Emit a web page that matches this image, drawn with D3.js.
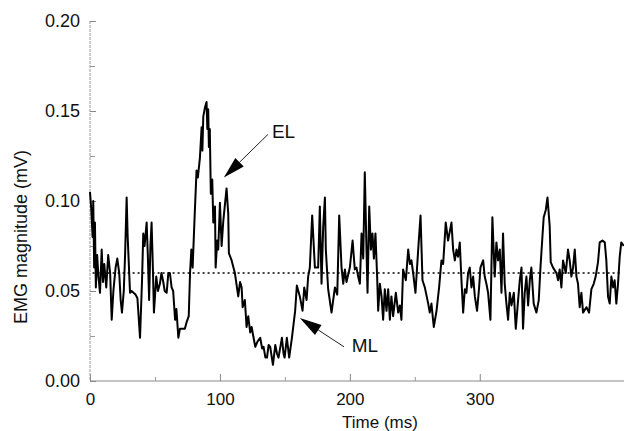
<!DOCTYPE html>
<html><head><meta charset="utf-8">
<script src="https://cdn.jsdelivr.net/npm/d3@7"></script>
<style>body{margin:0;background:#fff}svg{display:block}text{font-family:"Liberation Sans",Arial,sans-serif;fill:#111}</style>
</head><body><svg id="c" width="624" height="431"></svg>
<script>
// Time (ms)
const times = [0,1,2,2.5,3.2,3.8,4.5,5.5,6.5,7.7,9,10,11,12.5,14,15.5,16.7,18,19.7,21,22.5,23.6,24.6,26,27,28.2,29,30.8,32,35,36.5,38.5,40,41,42,43.6,44.5,45.5,46.5,47.4,48.5,49.2,51,52.3,53.8,55,56.4,57.5,59,60.3,61.5,62.8,64,65.5,66.5,68,69.2,71,73,74.5,76,77,78,79,80.5,82,83,
84.6,85.9,86.5,87.2,88.5,89.7,90.3,91,91.5,92.2,93,94.1,94.9,96.2,96.7,97.9,98.7,100,101.3,102.6,105.1,106.4,106.9,109,111.5,114.1,115.5,116.7,117.5,119.2,120.5,121.8,123.3,124.4,125.9,127.2,129,131,132.5,133.6,135,136.2,137.5,138.7,140.8,142.6,144,145.1,147.7,149,149.8,151.5,152.5,153.3,155.4,157.9,159.2,161.5,163.6,164.9,166.7,167.9,169.2,171,173.1,175.6,176.9,178.2,179.5,180.8,181.5,183.3,185.9,188.5,190.3,191.8,193.6,194.9,196.2,197.4,200,202.1,203.8,205.1,206.4,207.7,209,210.3,211.5,212.8,213.6,214.9,216.2,217.4,218.5,219.7,221,221.8,223.1,224.4,225.6,226.9,228.2,229.5,230.8,232,233.3,235.4,237.2,238.5,239.7,241,243.1,244.9,246.2,247.4,248.7,250.5,252.6,254.4,255.9,257.7,260.3,261.5,262.8,264.6,266.7,268.7,270.5,271.8,273.8,275.6,276.9,278.2,279.5,280.8,282.1,283.3,284.6,285.9,287.2,288.5,289.7,291,292.3,293.6,294.9,296.2,297.9,299.5,300.5,302.6,303.8,305.1,306.4,308.2,309.7,311.5,312.8,314.1,315.4,316.7,317.9,319.2,320.5,321.8,323.1,324.4,326.2,327.7,329.5,330.8,332.1,333.3,334.6,335.9,337.2,338.5,339.7,341.5,343.6,345.4,346.7,348.2,349.2,350.8,352.1,353.8,354.6,356.4,359,360.3,361.5,362.8,364.1,366.2,367.9,369.2,370.5,371.8,373.1,374.4,375.6,376.9,378.2,379.5,382.1,384.1,385.9,387.7,389.2,391,392.3,394.4,396.2,397.4,398.7,400,401.3,402.6,403.8,405.1,406.4,407.7,408.9,410.8];
// EMG magnitude (mV)
const emg = [0.105,0.095,0.08,0.1,0.063,0.088,0.052,0.07,0.058,0.049,0.073,0.055,0.065,0.052,0.07,0.06,0.034,0.05,0.063,0.068,0.06,0.045,0.038,0.05,0.07,0.102,0.08,0.049,0.05,0.048,0.046,0.024,0.055,0.082,0.075,0.088,0.07,0.045,0.075,0.088,0.06,0.038,0.058,0.05,0.054,0.06,0.055,0.05,0.049,0.06,0.06,0.052,0.05,0.034,0.04,0.024,0.029,0.029,0.029,0.033,0.036,0.06,0.073,0.063,0.091,0.117,0.113,
0.124,0.141,0.128,0.147,0.152,0.155,0.14,0.151,0.13,0.14,0.104,0.112,0.088,0.097,0.063,0.078,0.073,0.099,0.075,0.089,0.107,0.093,0.071,0.067,0.06,0.047,0.055,0.052,0.041,0.045,0.03,0.036,0.027,0.03,0.024,0.019,0.022,0.024,0.018,0.019,0.013,0.013,0.02,0.019,0.009,0.02,0.015,0.013,0.024,0.015,0.013,0.024,0.018,0.013,0.024,0.039,0.053,0.047,0.039,0.052,0.045,0.058,0.063,0.092,0.063,0.063,0.097,0.054,0.086,0.102,0.073,0.051,0.038,0.052,0.048,0.092,0.063,0.054,0.062,0.055,0.063,0.078,0.062,0.063,0.058,0.054,0.082,0.068,0.116,0.073,0.049,0.097,0.073,0.082,0.068,0.082,0.058,0.039,0.054,0.047,0.034,0.051,0.039,0.051,0.034,0.047,0.036,0.049,0.038,0.042,0.034,0.062,0.056,0.073,0.065,0.067,0.06,0.049,0.073,0.092,0.056,0.052,0.043,0.038,0.043,0.03,0.039,0.052,0.067,0.065,0.088,0.078,0.083,0.088,0.073,0.067,0.073,0.069,0.077,0.056,0.038,0.051,0.049,0.06,0.063,0.052,0.058,0.047,0.039,0.052,0.063,0.067,0.058,0.054,0.049,0.034,0.091,0.058,0.077,0.067,0.073,0.049,0.082,0.054,0.043,0.034,0.049,0.042,0.049,0.029,0.045,0.056,0.063,0.029,0.049,0.058,0.042,0.056,0.063,0.043,0.038,0.045,0.063,0.08,0.091,0.095,0.102,0.086,0.066,0.063,0.06,0.056,0.062,0.052,0.067,0.06,0.073,0.067,0.058,0.063,0.073,0.058,0.054,0.041,0.049,0.038,0.041,0.038,0.051,0.054,0.058,0.066,0.077,0.078,0.077,0.067,0.047,0.043,0.058,0.052,0.056,0.043,0.054,0.069,0.077,0.075];
const baseline = 0.06;
const yTicks = [0, 0.05, 0.10, 0.15, 0.20];
const yMinorTicks = [0.025, 0.075, 0.125, 0.175];
const xTicks = [0, 100, 200, 300];
const xMinorTicks = [50, 150, 250];
const annotations = [
  {label: "EL", tip: [103, 0.113], tail: [137, 0.137], text: [140, 0.135]},
  {label: "ML", tip: [161.5, 0.035], tail: [195.5, 0.019], text: [201.5, 0.016]}
];

const svg = d3.select("#c");
const x = d3.scaleLinear().domain([0, 411]).range([90, 624]);
const y = d3.scaleLinear().domain([0, 0.2]).range([381, 21]);

// axes
const gx = svg.append("g").attr("transform", `translate(0,${y(0)})`)
  .call(d3.axisBottom(x).tickValues(xTicks).tickSize(-7).tickPadding(12).tickFormat(d3.format("d")));
gx.select(".domain").attr("stroke", "#888").attr("d", `M${x(0)},0H624`);
gx.selectAll(".tick line").attr("stroke", "#888");
gx.selectAll(".tick text").attr("font-size", 17).attr("font-family", "Liberation Sans, Arial").attr("fill", "#111");
svg.append("g").attr("transform", `translate(0,${y(0)})`)
  .call(d3.axisBottom(x).tickValues(xMinorTicks).tickSize(-4).tickFormat(""))
  .call(g => { g.select(".domain").remove(); g.selectAll("line").attr("stroke", "#999"); });

const gy = svg.append("g").attr("transform", `translate(${x(0)},0)`)
  .call(d3.axisLeft(y).tickValues(yTicks).tickSize(-6).tickPadding(10).tickFormat(d3.format(".2f")));
gy.select(".domain").attr("stroke", "#999").attr("stroke-dasharray", "3,1").attr("d", `M0,${y(0.2)}V${y(0)}`);
gy.selectAll(".tick line").attr("stroke", "#888");
gy.selectAll(".tick text").attr("font-size", 18).attr("font-family", "Liberation Sans, Arial").attr("fill", "#111");
svg.append("g").attr("transform", `translate(${x(0)},0)`)
  .call(d3.axisLeft(y).tickValues(yMinorTicks).tickSize(-5).tickFormat(""))
  .call(g => { g.select(".domain").remove(); g.selectAll("line").attr("stroke", "#999"); });

// baseline dotted
svg.append("line").attr("x1", x(2)).attr("x2", x(409)).attr("y1", y(baseline)).attr("y2", y(baseline))
  .attr("stroke", "#000").attr("stroke-width", 1.3).attr("stroke-dasharray", "2,3");

// trace
const pts = times.map((t, i) => [t, emg[i]]);
svg.append("path").datum(pts)
  .attr("d", d3.line().x(d => x(d[0])).y(d => y(d[1])))
  .attr("fill", "none").attr("stroke", "#000").attr("stroke-width", 2).attr("stroke-linejoin", "round");

// annotations
annotations.forEach(a => {
  const tx = x(a.tip[0]), ty = y(a.tip[1]), ex = x(a.tail[0]), ey = y(a.tail[1]);
  const ang = Math.atan2(ey - ty, ex - tx);
  const L = 22, W = 6;
  const bx = tx + L * Math.cos(ang), by = ty + L * Math.sin(ang);
  const px = -Math.sin(ang) * W, py = Math.cos(ang) * W;
  svg.append("line").attr("x1", bx).attr("y1", by).attr("x2", ex).attr("y2", ey).attr("stroke", "#222").attr("stroke-width", 1);
  svg.append("path").attr("d", `M${tx},${ty}L${bx + px},${by + py}L${bx - px},${by - py}Z`).attr("fill", "#000");
  svg.append("text").attr("x", x(a.text[0])).attr("y", y(a.text[1])).attr("font-size", 19).text(a.label);
});

// titles
svg.append("text").attr("x", 380).attr("y", 428).attr("text-anchor", "middle").attr("font-size", 17).text("Time (ms)");
svg.append("text").attr("transform", `translate(27,237) rotate(-90)`).attr("text-anchor", "middle").attr("font-size", 18).text("EMG magnitude (mV)");
</script></body></html>
